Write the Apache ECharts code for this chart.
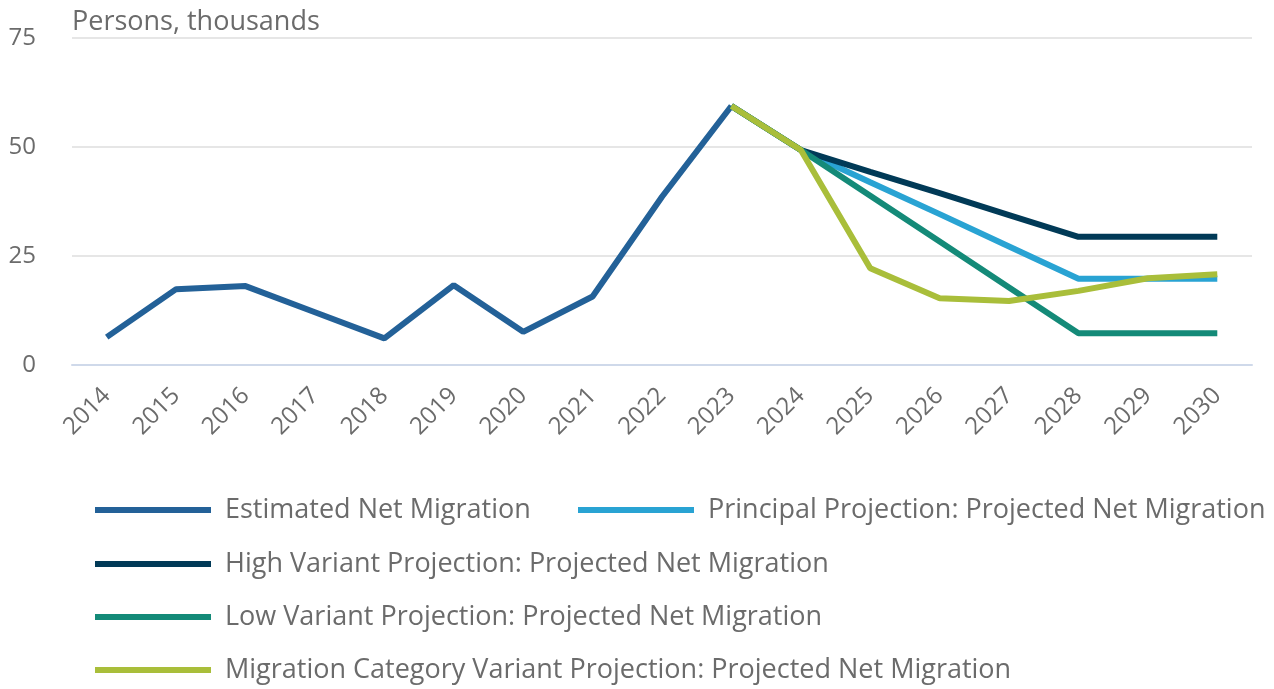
<!DOCTYPE html>
<html>
<head>
<meta charset="utf-8">
<script src="https://cdn.jsdelivr.net/npm/echarts@6/dist/echarts.min.js"></script>
<style>
  html, body { margin: 0; padding: 0; background: #fff; }
  #chart { width: 1274px; height: 689px; }
</style>
</head>
<body>
<div id="chart"></div>
<script>
// years on the x axis
var years = ['2014', '2015', '2016', '2017', '2018', '2019', '2020', '2021', '2022',
  '2023', '2024', '2025', '2026', '2027', '2028', '2029', '2030']

// persons, thousands
var estimated = [6.4, 17.4, 18.1, 12.1, 6.1, 18.3, 7.6, 15.7, 38.6, 59.4,
  null, null, null, null, null, null, null]
var principal = [null, null, null, null, null, null, null, null, null, 59.4,
  49.3, 41.9, 34.6, 27.2, 19.8, 19.8, 19.8]
var highVariant = [null, null, null, null, null, null, null, null, null, 59.4,
  49.3, 44.3, 39.4, 34.4, 29.4, 29.4, 29.4]
var lowVariant = [null, null, null, null, null, null, null, null, null, 59.4,
  49.3, 38.8, 28.3, 17.8, 7.3, 7.3, 7.3]
var migCategory = [null, null, null, null, null, null, null, null, null, 59.4,
  49.3, 22.2, 15.3, 14.7, 17.0, 19.9, 20.8]

var yTicks = [0, 25, 50, 75]

var names = [
  'Estimated Net Migration',
  'Principal Projection: Projected Net Migration',
  'High Variant Projection: Projected Net Migration',
  'Low Variant Projection: Projected Net Migration',
  'Migration Category Variant Projection: Projected Net Migration'
]
var colors = ['#236198', '#29a3d3', '#013a57', '#148a78', '#a9be3a']
var seriesData = [estimated, principal, highVariant, lowVariant, migCategory]

var textGrey = '#6b6b6b'
var font = "'Open Sans', sans-serif"

// one legend per row position
var legendPos = [
  { left: 95, top: 493 },
  { left: 578, top: 493 },
  { left: 95, top: 547 },
  { left: 95, top: 600 },
  { left: 95, top: 653 }
]

var option = {
  animation: false,
  color: colors,
  textStyle: { fontFamily: font },
  grid: {
    left: 72,
    right: 22,
    top: 38,
    bottom: 324
  },
  legend: legendPos.map(function (p, i) {
    return {
      data: [names[i]],
      left: p.left,
      top: p.top,
      padding: 0,
      icon: 'rect',
      itemWidth: 116,
      itemHeight: 6,
      textStyle: {
        fontFamily: font,
        fontSize: 27,
        color: textGrey,
        lineHeight: 34,
        padding: [0, 0, 0, 9]
      }
    }
  }),
  xAxis: {
    type: 'category',
    data: years,
    boundaryGap: true,
    axisLine: { lineStyle: { color: '#cfd9ea', width: 2 } },
    axisTick: {
      alignWithLabel: true,
      length: 21,
      lineStyle: { color: '#cfd9ea', width: 2 }
    },
    axisLabel: {
      rotate: 45,
      margin: 27,
      fontSize: 24,
      color: textGrey,
      fontFamily: font
    }
  },
  yAxis: {
    type: 'value',
    min: yTicks[0],
    max: yTicks[yTicks.length - 1],
    interval: 25,
    name: 'Persons, thousands',
    nameLocation: 'end',
    nameGap: 2,
    nameTextStyle: {
      align: 'left',
      fontSize: 27,
      color: textGrey,
      fontFamily: font
    },
    axisLine: { show: false },
    axisTick: { show: false },
    axisLabel: {
      margin: 36,
      fontSize: 24,
      color: textGrey,
      fontFamily: font
    },
    splitLine: { lineStyle: { color: '#e6e6e6', width: 2 } }
  },
  series: names.map(function (n, i) {
    return {
      name: n,
      type: 'line',
      data: seriesData[i],
      showSymbol: false,
      symbol: 'none',
      connectNulls: false,
      lineStyle: { width: 6, color: colors[i] },
      itemStyle: { color: colors[i] },
      z: 2 + i
    }
  })
}

var myChart = echarts.init(document.getElementById('chart'))
myChart.setOption(option)
</script>
</body>
</html>
